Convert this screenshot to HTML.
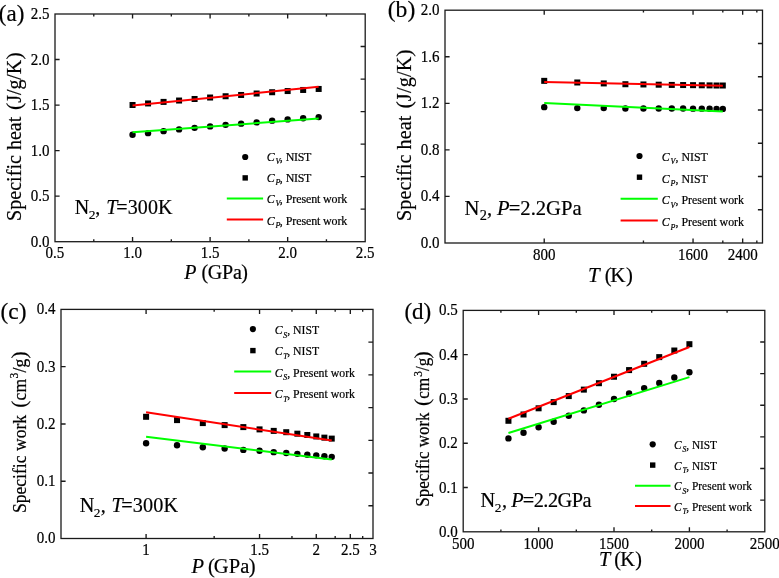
<!DOCTYPE html>
<html><head><meta charset="utf-8"><style>
html,body{margin:0;padding:0;background:#fff;width:779px;height:578px;overflow:hidden}
svg{display:block}
text{font-family:"Liberation Serif", serif;fill:#000;font-kerning:none;stroke:#000;stroke-width:0.2px}
</style></head><body>
<div style="will-change:transform"><svg width="779" height="578" viewBox="0 0 779 578">
<rect x="55" y="14" width="310.2" height="227.7" fill="none" stroke="#1a1a1a" stroke-width="1.3"/>
<path d="M132.55 241.7v-4.6M132.55 14v4.6M210.1 241.7v-4.6M210.1 14v4.6M287.65 241.7v-4.6M287.65 14v4.6M93.78 241.7v-2.4M93.78 14v2.4M171.32 241.7v-2.4M171.32 14v2.4M248.88 241.7v-2.4M248.88 14v2.4M326.43 241.7v-2.4M326.43 14v2.4M55 196.16h4.6M55 150.62h4.6M55 105.08h4.6M55 59.54h4.6M365.2 46.53h-4.6M365.2 79.06h-4.6M365.2 111.59h-4.6M365.2 144.11h-4.6M365.2 176.64h-4.6M365.2 209.17h-4.6" stroke="#1a1a1a" stroke-width="1.35" fill="none"/>
<text x="55" y="258.5" font-size="15" text-anchor="middle" transform="matrix(1 0 0 1.08 0 -20.68)" >0.5</text>
<text x="132.55" y="258.5" font-size="15" text-anchor="middle" transform="matrix(1 0 0 1.08 0 -20.68)" >1.0</text>
<text x="210.1" y="258.5" font-size="15" text-anchor="middle" transform="matrix(1 0 0 1.08 0 -20.68)" >1.5</text>
<text x="287.65" y="258.5" font-size="15" text-anchor="middle" transform="matrix(1 0 0 1.08 0 -20.68)" >2.0</text>
<text x="365.2" y="258.5" font-size="15" text-anchor="middle" transform="matrix(1 0 0 1.08 0 -20.68)" >2.5</text>
<text x="49.6" y="246.7" font-size="15" text-anchor="end" transform="matrix(1 0 0 1.08 0 -19.74)" >0.0</text>
<text x="49.6" y="201.16" font-size="15" text-anchor="end" transform="matrix(1 0 0 1.08 0 -16.09)" >0.5</text>
<text x="49.6" y="155.62" font-size="15" text-anchor="end" transform="matrix(1 0 0 1.08 0 -12.45)" >1.0</text>
<text x="49.6" y="110.08" font-size="15" text-anchor="end" transform="matrix(1 0 0 1.08 0 -8.81)" >1.5</text>
<text x="49.6" y="64.54" font-size="15" text-anchor="end" transform="matrix(1 0 0 1.08 0 -5.16)" >2.0</text>
<text x="49.6" y="19" font-size="15" text-anchor="end" transform="matrix(1 0 0 1.08 0 -1.52)" >2.5</text>
<circle cx="132.55" cy="134.77" r="3.2"/>
<circle cx="148.06" cy="133.13" r="3.2"/>
<circle cx="163.57" cy="131.13" r="3.2"/>
<circle cx="179.08" cy="129.4" r="3.2"/>
<circle cx="194.59" cy="127.85" r="3.2"/>
<circle cx="210.1" cy="126.39" r="3.2"/>
<circle cx="225.61" cy="124.84" r="3.2"/>
<circle cx="241.12" cy="123.66" r="3.2"/>
<circle cx="256.63" cy="122.39" r="3.2"/>
<circle cx="272.14" cy="120.65" r="3.2"/>
<circle cx="287.65" cy="119.38" r="3.2"/>
<circle cx="303.16" cy="118.2" r="3.2"/>
<circle cx="318.67" cy="117.1" r="3.2"/>
<rect x="129.55" y="101.99" width="6" height="6"/>
<rect x="145.06" y="100.44" width="6" height="6"/>
<rect x="160.57" y="98.89" width="6" height="6"/>
<rect x="176.08" y="97.53" width="6" height="6"/>
<rect x="191.59" y="95.98" width="6" height="6"/>
<rect x="207.1" y="94.52" width="6" height="6"/>
<rect x="222.61" y="93.25" width="6" height="6"/>
<rect x="238.12" y="91.97" width="6" height="6"/>
<rect x="253.63" y="90.51" width="6" height="6"/>
<rect x="269.14" y="89.24" width="6" height="6"/>
<rect x="284.65" y="88.05" width="6" height="6"/>
<rect x="300.16" y="86.96" width="6" height="6"/>
<rect x="315.67" y="85.96" width="6" height="6"/>
<path d="M132.55 132.13L318.67 118.56" stroke="#00ff00" stroke-width="2" fill="none"/>
<path d="M132.55 105.54L318.67 86.86" stroke="#ff0000" stroke-width="2" fill="none"/>
<circle cx="245.2" cy="157" r="3.1"/>
<rect x="242.5" y="175.2" width="5.4" height="5.4"/>
<path d="M226.8 198.6H263.1" stroke="#00ff00" stroke-width="2"/>
<path d="M226.8 219.6H263.1" stroke="#ff0000" stroke-width="2"/>
<text x="266.68" y="161.3" font-size="12.0" font-style="italic" transform="matrix(1 0 0 1.09 0 -14.52)">C</text>
<text x="275.50" y="164.3" font-size="8.04" font-style="italic" transform="matrix(1 0 0 1.09 0 -14.79)">V</text>
<text x="279.80" y="161.3" font-size="12.0" transform="matrix(1 0 0 1.09 0 -14.52)"><tspan>, </tspan><tspan style="letter-spacing:-0.37px">NIST</tspan></text>
<text x="266.68" y="182.5" font-size="12.0" font-style="italic" transform="matrix(1 0 0 1.09 0 -16.43)">C</text>
<text x="275.50" y="185.5" font-size="8.04" font-style="italic" transform="matrix(1 0 0 1.09 0 -16.70)">P</text>
<text x="279.80" y="182.5" font-size="12.0" transform="matrix(1 0 0 1.09 0 -16.43)"><tspan>, </tspan><tspan style="letter-spacing:-0.37px">NIST</tspan></text>
<text x="266.68" y="203.4" font-size="12.0" font-style="italic" transform="matrix(1 0 0 1.09 0 -18.31)">C</text>
<text x="275.50" y="206.4" font-size="8.04" font-style="italic" transform="matrix(1 0 0 1.09 0 -18.58)">V</text>
<text x="279.80" y="203.4" font-size="12.0" transform="matrix(1 0 0 1.09 0 -18.31)"><tspan>, </tspan><tspan style="letter-spacing:-0.13px">Present work</tspan></text>
<text x="266.68" y="224.6" font-size="12.0" font-style="italic" transform="matrix(1 0 0 1.09 0 -20.21)">C</text>
<text x="275.50" y="227.6" font-size="8.04" font-style="italic" transform="matrix(1 0 0 1.09 0 -20.48)">P</text>
<text x="279.80" y="224.6" font-size="12.0" transform="matrix(1 0 0 1.09 0 -20.21)"><tspan>, </tspan><tspan style="letter-spacing:-0.13px">Present work</tspan></text>
<text x="74.67" y="213.8" font-size="20.0">N</text>
<text x="88.86" y="219.2" font-size="13.5">2</text>
<text x="95.29" y="213.8" font-size="20.0">,</text>
<text x="106.24" y="213.8" font-size="20.0" font-style="italic">T</text>
<text x="116.25" y="213.8" font-size="20.0" style="letter-spacing:0.14px">=300K</text>
<text x="184.16" y="279.1" font-size="20.0" font-style="italic">P</text>
<text x="201.47" y="279.1" font-size="20.0">(</text>
<text x="207.63" y="279.1" font-size="20.0" style="letter-spacing:-0.12px">GPa</text>
<text x="241.21" y="279.1" font-size="20.0">)</text>
<g transform="translate(21.4 0) rotate(-90)">
<text x="-220.89" y="0" font-size="20.0" style="letter-spacing:0.03px">Specific heat</text>
<text x="-110.01" y="0" font-size="21.8">(</text>
<text x="-102.67" y="0" font-size="20.0" style="letter-spacing:-0.13px">J/g/K</text>
<text x="-59.55" y="0" font-size="21.8">)</text>
</g>
<text x="-1.21" y="20.65" font-size="23.0">(a)</text>
<rect x="445" y="10.2" width="317.5" height="232.8" fill="none" stroke="#1a1a1a" stroke-width="1.3"/>
<path d="M544.22 243v-4.6M544.22 10.2v4.6M693.05 243v-4.6M693.05 10.2v4.6M742.66 243v-4.6M742.66 10.2v4.6M643.44 243v-2.4M643.44 10.2v2.4M722.81 243v-2.4M722.81 10.2v2.4M756.83 243v-2.4M756.83 10.2v2.4M445 196.44h4.6M445 149.88h4.6M445 103.32h4.6M445 56.76h4.6M762.5 43.46h-4.6M762.5 76.71h-4.6M762.5 109.97h-4.6M762.5 143.23h-4.6M762.5 176.49h-4.6M762.5 209.74h-4.6" stroke="#1a1a1a" stroke-width="1.35" fill="none"/>
<text x="544.22" y="260.5" font-size="15" text-anchor="middle" transform="matrix(1 0 0 1.08 0 -20.84)" >800</text>
<text x="693.05" y="260.5" font-size="15" text-anchor="middle" transform="matrix(1 0 0 1.08 0 -20.84)" >1600</text>
<text x="742.66" y="260.5" font-size="15" text-anchor="middle" transform="matrix(1 0 0 1.08 0 -20.84)" >2400</text>
<text x="439.6" y="248" font-size="15" text-anchor="end" transform="matrix(1 0 0 1.08 0 -19.84)" >0.0</text>
<text x="439.6" y="201.44" font-size="15" text-anchor="end" transform="matrix(1 0 0 1.08 0 -16.12)" >0.4</text>
<text x="439.6" y="154.88" font-size="15" text-anchor="end" transform="matrix(1 0 0 1.08 0 -12.39)" >0.8</text>
<text x="439.6" y="108.32" font-size="15" text-anchor="end" transform="matrix(1 0 0 1.08 0 -8.67)" >1.2</text>
<text x="439.6" y="61.76" font-size="15" text-anchor="end" transform="matrix(1 0 0 1.08 0 -4.94)" >1.6</text>
<text x="439.6" y="15.2" font-size="15" text-anchor="end" transform="matrix(1 0 0 1.08 0 -1.22)" >2.0</text>
<circle cx="544.22" cy="107.16" r="3.2"/>
<circle cx="577.29" cy="108.09" r="3.2"/>
<circle cx="603.75" cy="108.09" r="3.2"/>
<circle cx="625.4" cy="108.44" r="3.2"/>
<circle cx="643.44" cy="108.44" r="3.2"/>
<circle cx="658.7" cy="108.44" r="3.2"/>
<circle cx="671.79" cy="108.56" r="3.2"/>
<circle cx="683.12" cy="108.56" r="3.2"/>
<circle cx="693.05" cy="108.67" r="3.2"/>
<circle cx="701.8" cy="108.67" r="3.2"/>
<circle cx="709.58" cy="108.79" r="3.2"/>
<circle cx="716.55" cy="108.91" r="3.2"/>
<circle cx="722.81" cy="108.91" r="3.2"/>
<rect x="541.22" y="77.85" width="6" height="6"/>
<rect x="574.29" y="79.48" width="6" height="6"/>
<rect x="600.75" y="80.42" width="6" height="6"/>
<rect x="622.4" y="81.23" width="6" height="6"/>
<rect x="640.44" y="81.46" width="6" height="6"/>
<rect x="655.7" y="81.7" width="6" height="6"/>
<rect x="668.79" y="81.93" width="6" height="6"/>
<rect x="680.12" y="82.05" width="6" height="6"/>
<rect x="690.05" y="82.16" width="6" height="6"/>
<rect x="698.8" y="82.28" width="6" height="6"/>
<rect x="706.58" y="82.39" width="6" height="6"/>
<rect x="713.55" y="82.51" width="6" height="6"/>
<rect x="719.81" y="82.51" width="6" height="6"/>
<path d="M544.22 103.09L722.81 111.47" stroke="#00ff00" stroke-width="2" fill="none"/>
<path d="M544.22 82.02L722.81 85.86" stroke="#ff0000" stroke-width="2" fill="none"/>
<circle cx="639.5" cy="156" r="3.1"/>
<rect x="636.8" y="174.5" width="5.4" height="5.4"/>
<path d="M620.6 198.7H657.8" stroke="#00ff00" stroke-width="2"/>
<path d="M620.6 220.5H657.8" stroke="#ff0000" stroke-width="2"/>
<text x="661.69" y="160.7" font-size="11.9" font-style="italic" transform="matrix(1 0 0 1.11 0 -17.68)">C</text>
<text x="670.43" y="164.1" font-size="7.97" font-style="italic" transform="matrix(1 0 0 1.11 0 -18.05)">V</text>
<text x="675.46" y="160.7" font-size="11.9" transform="matrix(1 0 0 1.11 0 -17.68)"><tspan>, </tspan><tspan>NIST</tspan></text>
<text x="661.69" y="182.6" font-size="11.9" font-style="italic" transform="matrix(1 0 0 1.11 0 -20.09)">C</text>
<text x="670.43" y="186" font-size="7.97" font-style="italic" transform="matrix(1 0 0 1.11 0 -20.46)">P</text>
<text x="675.46" y="182.6" font-size="11.9" transform="matrix(1 0 0 1.11 0 -20.09)"><tspan>, </tspan><tspan>NIST</tspan></text>
<text x="661.69" y="204.4" font-size="11.9" font-style="italic" transform="matrix(1 0 0 1.11 0 -22.48)">C</text>
<text x="670.43" y="207.8" font-size="7.97" font-style="italic" transform="matrix(1 0 0 1.11 0 -22.86)">V</text>
<text x="675.46" y="204.4" font-size="11.9" transform="matrix(1 0 0 1.11 0 -22.48)"><tspan>, </tspan><tspan style="letter-spacing:0.02px">Present work</tspan></text>
<text x="661.69" y="226.3" font-size="11.9" font-style="italic" transform="matrix(1 0 0 1.11 0 -24.89)">C</text>
<text x="670.43" y="229.7" font-size="7.97" font-style="italic" transform="matrix(1 0 0 1.11 0 -25.27)">P</text>
<text x="675.46" y="226.3" font-size="11.9" transform="matrix(1 0 0 1.11 0 -24.89)"><tspan>, </tspan><tspan style="letter-spacing:0.02px">Present work</tspan></text>
<text x="464.56" y="214.8" font-size="20.6">N</text>
<text x="479.72" y="220.4" font-size="14.3">2</text>
<text x="487.07" y="214.8" font-size="20.6">,</text>
<text x="497.06" y="214.8" font-size="20.6" font-style="italic">P</text>
<text x="508.72" y="214.8" font-size="20.6" style="letter-spacing:0.01px">=2.2GPa</text>
<text x="588.08" y="281.7" font-size="21.0" font-style="italic">T</text>
<text x="604.64" y="281.7" font-size="20.6">(</text>
<text x="610.25" y="281.7" font-size="21.0">K</text>
<text x="625.89" y="281.7" font-size="20.6">)</text>
<g transform="translate(410.8 0) rotate(-90)">
<text x="-220.90" y="0" font-size="20.2" style="letter-spacing:0.03px">Specific heat</text>
<text x="-108.42" y="0" font-size="22.0">(</text>
<text x="-101.17" y="0" font-size="20.2" style="letter-spacing:0.21px">J/g/K</text>
<text x="-56.66" y="0" font-size="22.0">)</text>
</g>
<text x="387.76" y="17.1" font-size="23.6">(b)</text>
<rect x="61" y="309.4" width="312" height="229.1" fill="none" stroke="#1a1a1a" stroke-width="1.3"/>
<path d="M146.09 538.5v-4.6M146.09 309.4v4.6M259.55 538.5v-4.6M259.55 309.4v4.6M316.27 538.5v-4.6M316.27 309.4v4.6M350.31 538.5v-4.6M350.31 309.4v4.6M214.16 538.5v-2.4M214.16 309.4v2.4M291.96 538.5v-2.4M291.96 309.4v2.4M335.18 538.5v-2.4M335.18 309.4v2.4M362.69 538.5v-2.4M362.69 309.4v2.4M61 481.23h4.6M61 423.95h4.6M61 366.68h4.6M373 342.13h-4.6M373 374.86h-4.6M373 407.59h-4.6M373 440.31h-4.6M373 473.04h-4.6M373 505.77h-4.6" stroke="#1a1a1a" stroke-width="1.35" fill="none"/>
<text x="146.09" y="555.5" font-size="15" text-anchor="middle" transform="matrix(1 0 0 1.08 0 -44.44)" >1</text>
<text x="259.55" y="555.5" font-size="15" text-anchor="middle" transform="matrix(1 0 0 1.08 0 -44.44)" >1.5</text>
<text x="316.27" y="555.5" font-size="15" text-anchor="middle" transform="matrix(1 0 0 1.08 0 -44.44)" >2</text>
<text x="350.31" y="555.5" font-size="15" text-anchor="middle" transform="matrix(1 0 0 1.08 0 -44.44)" >2.5</text>
<text x="373" y="555.5" font-size="15" text-anchor="middle" transform="matrix(1 0 0 1.08 0 -44.44)" >3</text>
<text x="55.6" y="543.5" font-size="15" text-anchor="end" transform="matrix(1 0 0 1.08 0 -43.48)" >0.0</text>
<text x="55.6" y="486.23" font-size="15" text-anchor="end" transform="matrix(1 0 0 1.08 0 -38.90)" >0.1</text>
<text x="55.6" y="428.95" font-size="15" text-anchor="end" transform="matrix(1 0 0 1.08 0 -34.32)" >0.2</text>
<text x="55.6" y="371.68" font-size="15" text-anchor="end" transform="matrix(1 0 0 1.08 0 -29.73)" >0.3</text>
<text x="55.6" y="314.4" font-size="15" text-anchor="end" transform="matrix(1 0 0 1.08 0 -25.15)" >0.4</text>
<circle cx="146.09" cy="443.19" r="3.2"/>
<circle cx="177.03" cy="445.2" r="3.2"/>
<circle cx="202.82" cy="447.2" r="3.2"/>
<circle cx="224.64" cy="448.52" r="3.2"/>
<circle cx="243.34" cy="449.9" r="3.2"/>
<circle cx="259.55" cy="450.81" r="3.2"/>
<circle cx="273.73" cy="452.13" r="3.2"/>
<circle cx="286.24" cy="453.05" r="3.2"/>
<circle cx="297.36" cy="453.85" r="3.2"/>
<circle cx="307.32" cy="454.71" r="3.2"/>
<circle cx="316.27" cy="455.34" r="3.2"/>
<circle cx="324.38" cy="456.25" r="3.2"/>
<circle cx="331.74" cy="456.83" r="3.2"/>
<rect x="143.09" y="413.79" width="6" height="6"/>
<rect x="174.03" y="417.11" width="6" height="6"/>
<rect x="199.82" y="420.09" width="6" height="6"/>
<rect x="221.64" y="422.1" width="6" height="6"/>
<rect x="240.34" y="424.1" width="6" height="6"/>
<rect x="256.55" y="426.39" width="6" height="6"/>
<rect x="270.73" y="427.88" width="6" height="6"/>
<rect x="283.24" y="429.2" width="6" height="6"/>
<rect x="294.36" y="430.69" width="6" height="6"/>
<rect x="304.32" y="432" width="6" height="6"/>
<rect x="313.27" y="433.44" width="6" height="6"/>
<rect x="321.38" y="434.64" width="6" height="6"/>
<rect x="328.74" y="435.61" width="6" height="6"/>
<path d="M146.09 436.84L331.74 459.52" stroke="#00ff00" stroke-width="2" fill="none"/>
<path d="M146.09 412.27L331.74 440.5" stroke="#ff0000" stroke-width="2" fill="none"/>
<circle cx="252.9" cy="329.1" r="3.1"/>
<rect x="250.2" y="347.9" width="5.4" height="5.4"/>
<path d="M234.2 371.4H271.2" stroke="#00ff00" stroke-width="2"/>
<path d="M234.2 393H271.2" stroke="#ff0000" stroke-width="2"/>
<text x="274.69" y="334.5" font-size="11.8" font-style="italic" transform="matrix(1 0 0 1.08 0 -26.76)">C</text>
<text x="283.37" y="338.3" font-size="7.91" font-style="italic" transform="matrix(1 0 0 1.08 0 -27.06)">S</text>
<text x="287.21" y="334.5" font-size="11.8" transform="matrix(1 0 0 1.08 0 -26.76)"><tspan>, </tspan><tspan style="letter-spacing:-0.06px">NIST</tspan></text>
<text x="274.69" y="355.5" font-size="11.8" font-style="italic" transform="matrix(1 0 0 1.08 0 -28.44)">C</text>
<text x="283.37" y="359.3" font-size="7.91" font-style="italic" transform="matrix(1 0 0 1.08 0 -28.74)">T</text>
<text x="287.21" y="355.5" font-size="11.8" transform="matrix(1 0 0 1.08 0 -28.44)"><tspan>, </tspan><tspan style="letter-spacing:-0.06px">NIST</tspan></text>
<text x="274.69" y="376.7" font-size="11.8" font-style="italic" transform="matrix(1 0 0 1.08 0 -30.14)">C</text>
<text x="283.37" y="380.5" font-size="7.91" font-style="italic" transform="matrix(1 0 0 1.08 0 -30.44)">S</text>
<text x="287.21" y="376.7" font-size="11.8" transform="matrix(1 0 0 1.08 0 -30.14)"><tspan>, </tspan><tspan>Present work</tspan></text>
<text x="274.69" y="397.9" font-size="11.8" font-style="italic" transform="matrix(1 0 0 1.08 0 -31.83)">C</text>
<text x="283.37" y="401.7" font-size="7.91" font-style="italic" transform="matrix(1 0 0 1.08 0 -32.14)">T</text>
<text x="287.21" y="397.9" font-size="11.8" transform="matrix(1 0 0 1.08 0 -31.83)"><tspan>, </tspan><tspan>Present work</tspan></text>
<text x="79.77" y="511.8" font-size="20.2">N</text>
<text x="93.87" y="517.2" font-size="13.3">2</text>
<text x="100.78" y="511.8" font-size="20.2">,</text>
<text x="111.43" y="511.8" font-size="20.2" font-style="italic">T</text>
<text x="121.34" y="511.8" font-size="20.2" style="letter-spacing:0.13px">=300K</text>
<text x="191.46" y="573.1" font-size="20.5" font-style="italic">P</text>
<text x="208.05" y="573.1" font-size="20.5">(</text>
<text x="213.81" y="573.1" font-size="20.5" style="letter-spacing:0.11px">GPa</text>
<text x="248.69" y="573.1" font-size="20.5">)</text>
<g transform="translate(25.9 0) rotate(-90)">
<text x="-513.13" y="0" font-size="17.6" transform="matrix(1 0 0 1.03 0 -0.00)">Specific work</text>
<text x="-407.80" y="0" font-size="21.7">(</text>
<text x="-400.62" y="0" font-size="17.6" style="letter-spacing:0.24px" transform="matrix(1 0 0 1.03 0 -0.00)">cm</text>
<text x="-378.40" y="-7.7" font-size="11.5" transform="matrix(1 0 0 1.03 0 0.23)">3</text>
<text x="-372.55" y="0" font-size="17.6" style="letter-spacing:0.15px" transform="matrix(1 0 0 1.03 0 -0.00)">/g</text>
<text x="-358.55" y="0" font-size="21.7">)</text>
</g>
<text x="0.58" y="318.6" font-size="23.3">(c)</text>
<rect x="463.2" y="310.4" width="301.6" height="221.4" fill="none" stroke="#1a1a1a" stroke-width="1.3"/>
<path d="M538.6 531.8v-4.6M538.6 310.4v4.6M614 531.8v-4.6M614 310.4v4.6M689.4 531.8v-4.6M689.4 310.4v4.6M500.9 531.8v-2.4M500.9 310.4v2.4M576.3 531.8v-2.4M576.3 310.4v2.4M651.7 531.8v-2.4M651.7 310.4v2.4M727.1 531.8v-2.4M727.1 310.4v2.4M463.2 487.52h4.6M463.2 443.24h4.6M463.2 398.96h4.6M463.2 354.68h4.6M764.8 342.03h-4.6M764.8 373.66h-4.6M764.8 405.29h-4.6M764.8 436.91h-4.6M764.8 468.54h-4.6M764.8 500.17h-4.6" stroke="#1a1a1a" stroke-width="1.35" fill="none"/>
<text x="463.2" y="548.6" font-size="15" text-anchor="middle" transform="matrix(1 0 0 1.08 0 -43.89)" >500</text>
<text x="538.6" y="548.6" font-size="15" text-anchor="middle" transform="matrix(1 0 0 1.08 0 -43.89)" >1000</text>
<text x="614" y="548.6" font-size="15" text-anchor="middle" transform="matrix(1 0 0 1.08 0 -43.89)" >1500</text>
<text x="689.4" y="548.6" font-size="15" text-anchor="middle" transform="matrix(1 0 0 1.08 0 -43.89)" >2000</text>
<text x="764.8" y="548.6" font-size="15" text-anchor="middle" transform="matrix(1 0 0 1.08 0 -43.89)" >2500</text>
<text x="457.8" y="536.8" font-size="15" text-anchor="end" transform="matrix(1 0 0 1.08 0 -42.94)" >0.0</text>
<text x="457.8" y="492.52" font-size="15" text-anchor="end" transform="matrix(1 0 0 1.08 0 -39.40)" >0.1</text>
<text x="457.8" y="448.24" font-size="15" text-anchor="end" transform="matrix(1 0 0 1.08 0 -35.86)" >0.2</text>
<text x="457.8" y="403.96" font-size="15" text-anchor="end" transform="matrix(1 0 0 1.08 0 -32.32)" >0.3</text>
<text x="457.8" y="359.68" font-size="15" text-anchor="end" transform="matrix(1 0 0 1.08 0 -28.77)" >0.4</text>
<text x="457.8" y="315.4" font-size="15" text-anchor="end" transform="matrix(1 0 0 1.08 0 -25.23)" >0.5</text>
<circle cx="508.44" cy="438.41" r="3.2"/>
<circle cx="523.52" cy="432.79" r="3.2"/>
<circle cx="538.6" cy="427.21" r="3.2"/>
<circle cx="553.68" cy="421.81" r="3.2"/>
<circle cx="568.76" cy="415.79" r="3.2"/>
<circle cx="583.84" cy="410.38" r="3.2"/>
<circle cx="598.92" cy="404.8" r="3.2"/>
<circle cx="614" cy="399.05" r="3.2"/>
<circle cx="629.08" cy="393.56" r="3.2"/>
<circle cx="644.16" cy="388.11" r="3.2"/>
<circle cx="659.24" cy="382.97" r="3.2"/>
<circle cx="674.32" cy="377.48" r="3.2"/>
<circle cx="689.4" cy="372.21" r="3.2"/>
<rect x="505.44" y="417.79" width="6" height="6"/>
<rect x="520.52" y="411.5" width="6" height="6"/>
<rect x="535.6" y="405.3" width="6" height="6"/>
<rect x="550.68" y="399.1" width="6" height="6"/>
<rect x="565.76" y="393.08" width="6" height="6"/>
<rect x="580.84" y="386.62" width="6" height="6"/>
<rect x="595.92" y="380.2" width="6" height="6"/>
<rect x="611" y="373.73" width="6" height="6"/>
<rect x="626.08" y="367.09" width="6" height="6"/>
<rect x="641.16" y="360.8" width="6" height="6"/>
<rect x="656.24" y="354.12" width="6" height="6"/>
<rect x="671.32" y="347.52" width="6" height="6"/>
<rect x="686.4" y="341.19" width="6" height="6"/>
<path d="M508.44 433.01L689.4 377.09" stroke="#00ff00" stroke-width="2" fill="none"/>
<path d="M508.44 418.71L689.4 347.02" stroke="#ff0000" stroke-width="2" fill="none"/>
<circle cx="652.7" cy="444.3" r="3.1"/>
<rect x="650" y="462.4" width="5.4" height="5.4"/>
<path d="M635 485.7H670.5" stroke="#00ff00" stroke-width="2"/>
<path d="M635 505.9H670.5" stroke="#ff0000" stroke-width="2"/>
<text x="674.02" y="449.3" font-size="11.4" font-style="italic" transform="matrix(1 0 0 1.08 0 -35.94)">C</text>
<text x="682.39" y="452.5" font-size="7.64" font-style="italic" transform="matrix(1 0 0 1.08 0 -36.20)">S</text>
<text x="686.22" y="449.3" font-size="11.4" transform="matrix(1 0 0 1.08 0 -35.94)"><tspan>, </tspan><tspan style="letter-spacing:-0.11px">NIST</tspan></text>
<text x="674.02" y="470.1" font-size="11.4" font-style="italic" transform="matrix(1 0 0 1.08 0 -37.61)">C</text>
<text x="682.39" y="473.3" font-size="7.64" font-style="italic" transform="matrix(1 0 0 1.08 0 -37.86)">T</text>
<text x="686.22" y="470.1" font-size="11.4" transform="matrix(1 0 0 1.08 0 -37.61)"><tspan>, </tspan><tspan style="letter-spacing:-0.11px">NIST</tspan></text>
<text x="674.02" y="490.5" font-size="11.4" font-style="italic" transform="matrix(1 0 0 1.08 0 -39.24)">C</text>
<text x="682.39" y="493.7" font-size="7.64" font-style="italic" transform="matrix(1 0 0 1.08 0 -39.50)">S</text>
<text x="686.22" y="490.5" font-size="11.4" transform="matrix(1 0 0 1.08 0 -39.24)"><tspan>, </tspan><tspan style="letter-spacing:0.03px">Present work</tspan></text>
<text x="674.02" y="510.9" font-size="11.4" font-style="italic" transform="matrix(1 0 0 1.08 0 -40.87)">C</text>
<text x="682.39" y="514.1" font-size="7.64" font-style="italic" transform="matrix(1 0 0 1.08 0 -41.13)">T</text>
<text x="686.22" y="510.9" font-size="11.4" transform="matrix(1 0 0 1.08 0 -40.87)"><tspan>, </tspan><tspan style="letter-spacing:0.03px">Present work</tspan></text>
<text x="480.57" y="506.6" font-size="20.3">N</text>
<text x="494.87" y="511.5" font-size="13.3">2</text>
<text x="501.98" y="506.6" font-size="20.3">,</text>
<text x="511.36" y="506.6" font-size="20.3" font-style="italic">P</text>
<text x="522.74" y="506.6" font-size="20.3" style="letter-spacing:-0.50px">=2.2GPa</text>
<text x="599.12" y="566.1" font-size="20.3" font-style="italic">T</text>
<text x="614.27" y="566.1" font-size="20.0">(</text>
<text x="620.27" y="566.1" font-size="20.3">K</text>
<text x="635.21" y="566.1" font-size="20.0">)</text>
<g transform="translate(429.4 0) rotate(-90)">
<text x="-506.69" y="0" font-size="17.0" style="letter-spacing:-0.05px" transform="matrix(1 0 0 1.1 0 -0.00)">Specific work</text>
<text x="-405.89" y="0" font-size="21.5">(</text>
<text x="-398.70" y="0" font-size="17.0" style="letter-spacing:0.24px" transform="matrix(1 0 0 1.1 0 -0.00)">cm</text>
<text x="-376.79" y="-7.4" font-size="11.2" transform="matrix(1 0 0 1.1 0 0.74)">3</text>
<text x="-371.05" y="0" font-size="17.0" transform="matrix(1 0 0 1.1 0 -0.00)">/g</text>
<text x="-358.54" y="0" font-size="21.5">)</text>
</g>
<text x="404.44" y="318.75" font-size="23.0">(d)</text>
</svg></div>
</body></html>
